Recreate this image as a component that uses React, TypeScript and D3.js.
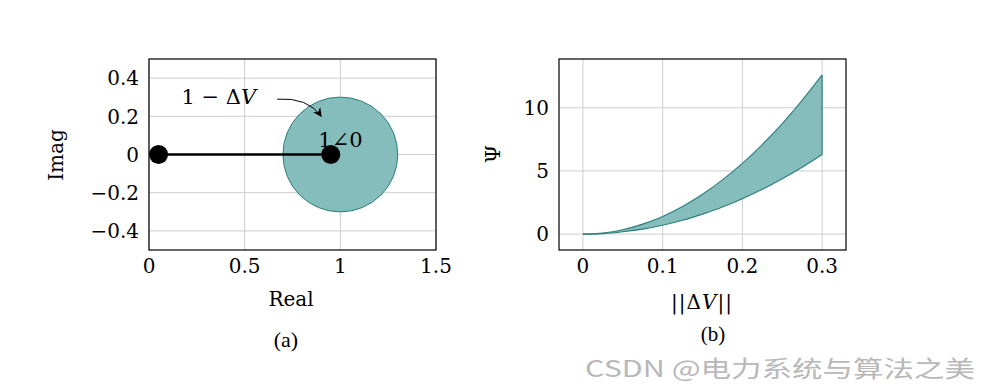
import React from 'react'
import * as d3 from 'd3'

// panel (a): complex plane
const realTicks = [0, 0.5, 1, 1.5]
const imagTicks = [-0.4, -0.2, 0, 0.2, 0.4]
const segmentPoints: [number, number][] = [[0.05, 0], [0.95, 0]]
const circleCenter: [number, number] = [1, 0]
const circleRadius = 0.3

// panel (b): Psi band vs ||dV||
const dvValues = [0, 0.025, 0.05, 0.075, 0.1, 0.125, 0.15, 0.175, 0.2, 0.225, 0.25, 0.275, 0.3]
const psiUpper = [0, 0.09, 0.35, 0.79, 1.4, 2.19, 3.15, 4.29, 5.6, 7.09, 8.75, 10.59, 12.6]
const psiLower = [0, 0.04, 0.18, 0.39, 0.7, 1.09, 1.58, 2.14, 2.8, 3.54, 4.38, 5.29, 6.3]
const dvTicks = [0, 0.1, 0.2, 0.3]
const psiTicks = [0, 5, 10]

const TEAL_FILL = '#85bdbc'
const TEAL_LINE = '#2b7d78'
const GRID = '#cdcdcd'
const FONT = '"DejaVu Serif", serif'

const fmt = (v: number) => (v < 0 ? '\u2212' + String(-v) : String(v))

const App: React.FC = () => {
  // panel (a) scales
  const xa = d3.scaleLinear().domain([0, 1.5]).range([149, 436])
  const ya = d3.scaleLinear().domain([-0.5, 0.5]).range([250, 59])

  // panel (b) scales (pgfplots style 10% enlargement)
  const xb = d3.scaleLinear().domain([-0.03, 0.33]).range([559, 846])
  const yb = d3.scaleLinear().domain([-1.26, 13.86]).range([250, 59])

  const band = d3.area<number>()
    .x((_, i) => xb(dvValues[i]))
    .y0((_, i) => yb(psiLower[i]))
    .y1((_, i) => yb(psiUpper[i]))
    .curve(d3.curveMonotoneX)
  const edgeLine = d3.line<number>()
    .x((_, i) => xb(dvValues[i]))
    .y(d => yb(d))
    .curve(d3.curveMonotoneX)

  const arrowStart: [number, number] = [xa(0.67), ya(0.29)]
  const arrowEnd: [number, number] = [xa(0.9), ya(0.2)]

  return (
    <svg width={992} height={384} style={{ position: 'absolute', left: 0, top: 0, background: '#fff' }}>
      <defs>
        <marker id="stealth" viewBox="0 0 10 10" refX="9" refY="5" markerWidth="9" markerHeight="9" orient="auto">
          <path d="M0,0 L10,5 L0,10 L3,5 Z" fill="#000" />
        </marker>
      </defs>

      {/* ---------- panel (a) ---------- */}
      <g fontFamily={FONT} fontSize={20}>
        {realTicks.map(t => (
          <line key={'gx' + t} x1={xa(t)} x2={xa(t)} y1={ya(-0.5)} y2={ya(0.5)} stroke={GRID} strokeWidth={1} />
        ))}
        {imagTicks.map(t => (
          <line key={'gy' + t} x1={xa(0)} x2={xa(1.5)} y1={ya(t)} y2={ya(t)} stroke={GRID} strokeWidth={1} />
        ))}
        <circle cx={xa(circleCenter[0])} cy={ya(circleCenter[1])} r={xa(circleRadius) - xa(0)}
          fill={TEAL_FILL} stroke={TEAL_LINE} strokeWidth={1} />
        <line x1={xa(segmentPoints[0][0])} y1={ya(segmentPoints[0][1])} x2={xa(segmentPoints[1][0])} y2={ya(segmentPoints[1][1])}
          stroke="#000" strokeWidth={2.6} />
        {segmentPoints.map((p, i) => (
          <circle key={'pt' + i} cx={xa(p[0])} cy={ya(p[1])} r={9.5} fill="#000" />
        ))}
        <rect x={xa(0)} y={ya(0.5)} width={xa(1.5) - xa(0)} height={ya(-0.5) - ya(0.5)} fill="none" stroke="#000" strokeWidth={1.2} />

        {realTicks.map(t => (
          <text key={'tx' + t} x={xa(t)} y={273} textAnchor="middle">{fmt(t)}</text>
        ))}
        {imagTicks.map(t => (
          <text key={'ty' + t} x={139} y={ya(t)} dy="0.36em" textAnchor="end">{fmt(t)}</text>
        ))}

        <text x={xa(0.17)} y={ya(0.265)} fontSize={21}>1 {'\u2212'} {'\u0394'}<tspan fontStyle="italic">V</tspan></text>
        <path d={`M${arrowStart[0]},${arrowStart[1]} Q${xa(0.83)},${ya(0.3)} ${arrowEnd[0]},${arrowEnd[1]}`}
          fill="none" stroke="#000" strokeWidth={1} markerEnd="url(#stealth)" />
        <text x={xa(0.885)} y={ya(0.04)} fontSize={21}>1{'\u2220'}0</text>

        <text x={291} y={306} textAnchor="middle">Real</text>
        <text transform="translate(63,155) rotate(-90)" textAnchor="middle">Imag</text>
        <text x={286} y={347} textAnchor="middle" fontFamily='"Liberation Serif", serif' fontSize={22}>(a)</text>
      </g>

      {/* ---------- panel (b) ---------- */}
      <g fontFamily={FONT} fontSize={20}>
        {dvTicks.map(t => (
          <line key={'gbx' + t} x1={xb(t)} x2={xb(t)} y1={250} y2={59} stroke={GRID} strokeWidth={1} />
        ))}
        {psiTicks.map(t => (
          <line key={'gby' + t} x1={559} x2={846} y1={yb(t)} y2={yb(t)} stroke={GRID} strokeWidth={1} />
        ))}
        <path d={band(psiUpper) ?? ''} fill={TEAL_FILL} stroke="none" />
        <path d={edgeLine(psiUpper) ?? ''} fill="none" stroke={TEAL_LINE} strokeWidth={1.1} />
        <path d={edgeLine(psiLower) ?? ''} fill="none" stroke={TEAL_LINE} strokeWidth={1.1} />
        <line x1={xb(0.3)} x2={xb(0.3)} y1={yb(psiUpper[psiUpper.length - 1])} y2={yb(psiLower[psiLower.length - 1])}
          stroke={TEAL_LINE} strokeWidth={1.1} />
        <rect x={559} y={59} width={287} height={191} fill="none" stroke="#000" strokeWidth={1.2} />

        {dvTicks.map(t => (
          <text key={'tbx' + t} x={xb(t)} y={273} textAnchor="middle">{fmt(t)}</text>
        ))}
        {psiTicks.map(t => (
          <text key={'tby' + t} x={549} y={yb(t)} dy="0.36em" textAnchor="end">{fmt(t)}</text>
        ))}

        <text x={702} y={309} textAnchor="middle" letterSpacing={1}>||{'\u0394'}<tspan fontStyle="italic">V</tspan>||</text>
        <text transform="translate(500,154) rotate(-90)" textAnchor="middle" fontSize={21}>{'\u03a8'}</text>
        <text x={713} y={341} textAnchor="middle" fontFamily='"Liberation Serif", serif' fontSize={21}>(b)</text>
      </g>

      {/* watermark */}
      <text x={585} y={377} fontFamily='"Noto Sans CJK SC", "Noto Sans", sans-serif' fontSize={23}
        fill="#b8b8b8" textLength={390} lengthAdjust="spacingAndGlyphs">
        CSDN @电力系统与算法之美
      </text>
    </svg>
  )
}

export default App
